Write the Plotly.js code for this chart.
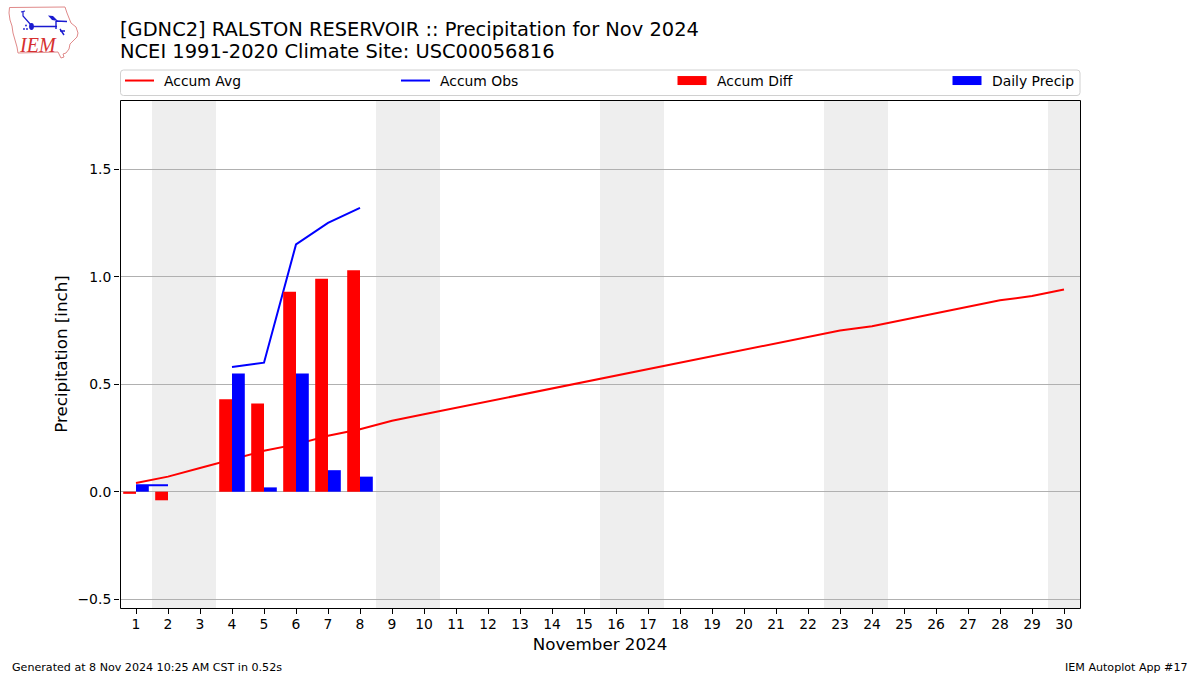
<!DOCTYPE html>
<html><head><meta charset="utf-8">
<script src="https://cdn.plot.ly/plotly-3.0.1.min.js"></script>
<style>html,body{margin:0;padding:0;background:#fff}#chart{width:1200px;height:675px}</style>
</head><body><div id="chart"></div>
<script>
const days = [1,2,3,4,5,6,7,8,9,10,11,12,13,14,15,16,17,18,19,20,21,22,23,24,25,26,27,28,29,30];
const accumAvg = [0.04,0.07,0.11,0.15,0.19,0.22,0.26,0.29,0.33,0.36,0.39,0.42,0.45,0.48,0.51,0.54,0.57,0.60,0.63,0.66,0.69,0.72,0.75,0.77,0.80,0.83,0.86,0.89,0.91,0.94];
const obsDays = [1,2,3,4,5,6,7,8];
const accumObs = [0.03,0.03,null,0.58,0.60,1.15,1.25,1.32];
const accumDiff = [-0.01,-0.04,null,0.43,0.41,0.93,0.99,1.03];
const dailyPrecip = [0.03,0,null,0.55,0.02,0.55,0.10,0.07];
const weekendSpans = [[1.5,3.5],[8.5,10.5],[15.5,17.5],[22.5,24.5],[29.5,30.5]];
const yTicks = [-0.5,0,0.5,1.0,1.5];

const W=1200,H=675,L=120,R=1080,T=100,B=608;
const px=x=>(x-L)/(R-L), py=y=>(B-y)/(B-T);

const logo = `<svg xmlns="http://www.w3.org/2000/svg" width="80" height="60" viewBox="0 0 80 60">
<path d="M9.5 7.5 L65 7 L67 13 L69 18 L71 23 L76 27 L78 33 L77 37 L73 41 L70 44 L69 49 L66 53 L63 54 L64 57 L61 58 L58 52 L18 53 L17 47 L15 40 L13 33 L12 26 L10 20 L9 13 Z" fill="#fff" stroke="#e08a8a" stroke-width="1"/>
<path d="M21 12 L25 11 M23 12 L23 16 L31 25" fill="none" stroke="#1a1ad0" stroke-width="1.2"/>
<path d="M32 26.5 L57 26.5 M56 21 L67 21.5 M56 21 L56 29 M60 29 L64 35 M60 31 L65 31" fill="none" stroke="#1a1ad0" stroke-width="1.4"/>
<path d="M48 15.5 L53 16 L58 21 L52 20 Z" fill="#1a1ad0"/>
<ellipse cx="31.5" cy="26.5" rx="2.4" ry="3.4" fill="#1a1ad0"/>
<circle cx="24" cy="29" r="0.9" fill="#1a1ad0"/><circle cx="26" cy="25.5" r="0.9" fill="#1a1ad0"/><circle cx="27" cy="29" r="0.9" fill="#1a1ad0"/>
</svg>`;

function roundBox(x0,y0,x1,y1,r){
  const X=px,Y=py;
  return `M ${X(x0+r)} ${Y(y0)} L ${X(x1-r)} ${Y(y0)} Q ${X(x1)} ${Y(y0)} ${X(x1)} ${Y(y0+r)} L ${X(x1)} ${Y(y1-r)} Q ${X(x1)} ${Y(y1)} ${X(x1-r)} ${Y(y1)} L ${X(x0+r)} ${Y(y1)} Q ${X(x0)} ${Y(y1)} ${X(x0)} ${Y(y1-r)} L ${X(x0)} ${Y(y0+r)} Q ${X(x0)} ${Y(y0)} ${X(x0+r)} ${Y(y0)} Z`;
}

const FONT='"DejaVu Sans", sans-serif';
const traces=[
 {type:'scatter',mode:'lines',name:'Accum Avg',x:days,y:accumAvg,line:{color:'#ff0000',width:2},hoverinfo:'skip',legend:'legend'},
 {type:'scatter',mode:'lines',name:'Accum Obs',x:obsDays,y:accumObs,line:{color:'#0000ff',width:2},connectgaps:false,hoverinfo:'skip',legend:'legend2'},
 {type:'bar',name:'Accum Diff',x:obsDays,y:accumDiff,width:0.4,offset:-0.4,marker:{color:'#ff0000',line:{width:0}},zorder:1,hoverinfo:'skip',legend:'legend3'},
 {type:'bar',name:'Daily Precip',x:obsDays,y:dailyPrecip,width:0.4,offset:0,marker:{color:'#0000ff',line:{width:0}},zorder:1,hoverinfo:'skip',legend:'legend4'}
];
const shapes=weekendSpans.map(s=>({type:'rect',layer:'below',xref:'x',yref:'paper',x0:s[0],x1:s[1],y0:0,y1:1,fillcolor:'#eeeeee',line:{width:0}}));
shapes.push({type:'path',xref:'paper',yref:'paper',layer:'above',path:roundBox(120.5,70,1080,95.5,3),fillcolor:'rgba(255,255,255,0)',line:{color:'#d0d0d0',width:1}});
shapes.push({type:'rect',xref:'paper',yref:'paper',layer:'above',x0:px(120.5),x1:px(1080.5),y0:py(608.5),y1:py(100.5),fillcolor:'rgba(255,255,255,0)',line:{color:'#000',width:1}});

const legendBase=x=>({orientation:'h',x:px(x),y:py(65),xanchor:'left',yanchor:'top',itemwidth:34,bgcolor:'rgba(0,0,0,0)',borderwidth:0,font:{family:FONT,size:13.9,color:'#000'},itemclick:false,itemdoubleclick:false});

const layout={
 width:W,height:H,paper_bgcolor:'#fff',plot_bgcolor:'#fff',
 margin:{l:L,r:W-R,t:T,b:H-B,pad:0},
 font:{family:FONT,color:'#000',size:14},
 title:{text:'[GDNC2] RALSTON RESERVOIR :: Precipitation for Nov 2024',font:{family:FONT,size:19.46,color:'#000'},x:120/W,xanchor:'left',xref:'container',y:1-29/H,yanchor:'middle'},
 barmode:'overlay',
 showlegend:true,
 legend:legendBase(120),legend2:legendBase(396),legend3:legendBase(673),legend4:legendBase(948),
 xaxis:{range:[0.5,30.5],tickmode:'array',tickvals:days,ticktext:days.map(String),showgrid:false,zeroline:false,showline:true,mirror:true,linecolor:'#000',linewidth:1,ticks:'outside',ticklen:5,tickwidth:1,tickcolor:'#000',ticklabelstandoff:-2,tickfont:{family:FONT,size:13.9,color:'#000'},title:{text:'November 2024',font:{family:FONT,size:16.7,color:'#000'},standoff:7},automargin:false},
 yaxis:{range:[-0.541,1.8218],tickmode:'array',tickvals:yTicks,tickformat:'.1f',showgrid:true,gridcolor:'#b0b0b0',gridwidth:1,zeroline:false,showline:true,mirror:true,linecolor:'#000',linewidth:1,ticks:'outside',ticklen:5,tickwidth:1,tickcolor:'#000',tickfont:{family:FONT,size:13.9,color:'#000'},title:{text:'Precipitation [inch]',font:{family:FONT,size:16.7,color:'#000'},standoff:5},automargin:false},
 shapes:shapes,
 images:[{source:'data:image/svg+xml;charset=utf-8,'+encodeURIComponent(logo),xref:'paper',yref:'paper',x:px(0),y:py(0),sizex:80/(R-L),sizey:60/(B-T),xanchor:'left',yanchor:'top',sizing:'stretch',layer:'below'}],
 annotations:[
  {text:'NCEI 1991-2020 Climate Site: USC00056816',xref:'paper',yref:'paper',x:px(118.5),y:py(52),xanchor:'left',yanchor:'middle',showarrow:false,font:{family:FONT,size:19.46,color:'#000'},borderpad:0},
  {text:'<i>IEM</i>',xref:'paper',yref:'paper',x:px(37.5),y:py(45),xanchor:'center',yanchor:'middle',showarrow:false,font:{family:'"Liberation Serif", serif',size:20,color:'#d62f2f'},borderpad:0},
  {text:'Generated at 8 Nov 2024 10:25 AM CST in 0.52s',xref:'paper',yref:'paper',x:px(11),y:py(667),xanchor:'left',yanchor:'middle',showarrow:false,font:{family:FONT,size:11.1,color:'#000'},borderpad:0},
  {text:'IEM Autoplot App #17',xref:'paper',yref:'paper',x:px(1189),y:py(667),xanchor:'right',yanchor:'middle',showarrow:false,font:{family:FONT,size:11.1,color:'#000'},borderpad:0}
 ]
};
Plotly.newPlot('chart',traces,layout,{displayModeBar:false,staticPlot:true}).then(gd=>{
  gd.querySelectorAll('.legendlines path').forEach(p=>p.setAttribute('d','M5,0h29'));
  gd.querySelectorAll('.legendpoints path').forEach(p=>p.setAttribute('d','M-17.5,4.5H11.5V-4.5H-17.5Z'));
});
</script></body></html>
